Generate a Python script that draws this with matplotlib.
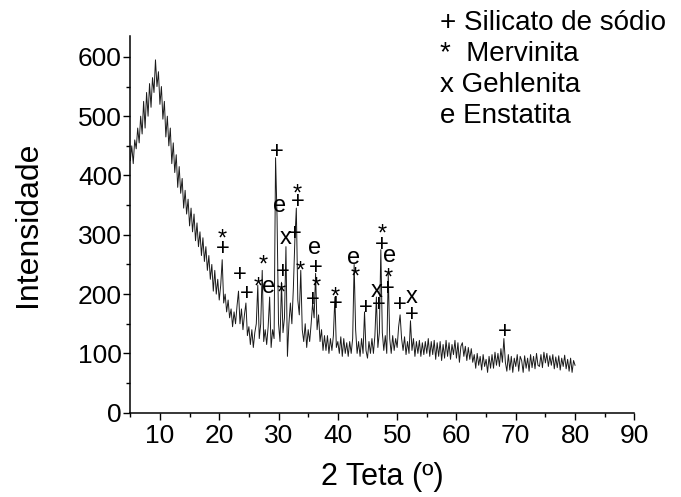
import numpy as np
import matplotlib
matplotlib.use('Agg')
import matplotlib.pyplot as plt
from matplotlib.ticker import MultipleLocator

plt.rcParams['font.family'] = ['Liberation Sans', 'DejaVu Sans']

# 2 theta grid (0.25 deg steps from 5 to 80) and intensity
two_theta_start = 5.0
two_theta_step = 0.25
intensity = [
    425, 450, 420, 460,   # 5
    445, 480, 455, 500,   # 6
    470, 525, 480, 540,   # 7
    500, 555, 515, 565,   # 8
    540, 595, 550, 575,   # 9
    520, 550, 495, 525,   # 10
    465, 500, 450, 480,   # 11
    420, 455, 405, 435,   # 12
    380, 415, 370, 395,   # 13
    345, 375, 335, 360,   # 14
    315, 345, 305, 335,   # 15
    290, 320, 280, 305,   # 16
    265, 295, 255, 280,   # 17
    240, 265, 225, 250,   # 18
    205, 240, 200, 225,   # 19
    190, 215, 258, 185,   # 20
    200, 170, 190, 160,   # 21
    175, 145, 170, 150,   # 22
    180, 205, 150, 175,   # 23
    140, 165, 185, 130,   # 24
    145, 115, 140, 110,   # 25
    135, 150, 215, 125,   # 26
    150, 240, 120, 140,   # 27
    115, 145, 195, 110,   # 28
    140, 125, 430, 330,   # 29
    150, 120, 220, 135,   # 30
    160, 280, 95, 150,    # 31
    185, 150, 210, 290,   # 32
    345, 190, 165, 240,   # 33
    140, 120, 150, 110,   # 34
    140, 120, 150, 185,   # 35
    160, 235, 140, 165,   # 36
    120, 140, 105, 130,   # 37
    105, 130, 100, 125,   # 38
    105, 130, 195, 110,   # 39
    120, 100, 128, 95,    # 40
    125, 100, 118, 95,    # 41
    120, 100, 125, 250,   # 42
    140, 100, 120, 95,    # 43
    125, 100, 170, 105,   # 44
    92, 120, 100, 125,    # 45
    100, 130, 195, 110,   # 46
    135, 275, 135, 105,   # 47
    130, 100, 235, 125,   # 48
    100, 130, 105, 125,   # 49
    110, 145, 165, 125,   # 50
    105, 128, 98, 120,    # 51
    100, 155, 105, 125,   # 52
    95, 120, 100, 122,    # 53
    95, 118, 98, 120,     # 54
    100, 125, 95, 120,    # 55
    98, 122, 90, 118,     # 56
    95, 120, 88, 115,     # 57
    92, 122, 95, 118,     # 58
    90, 115, 98, 122,     # 59
    92, 118, 85, 112,     # 60
    118, 95, 112, 88,     # 61
    110, 90, 108, 85,     # 62
    98, 75, 100, 80,      # 63
    95, 72, 98, 78,       # 64
    90, 68, 95, 75,       # 65
    98, 75, 102, 80,      # 66
    100, 78, 108, 85,     # 67
    125, 85, 70, 98,      # 68
    72, 95, 68, 92,       # 69
    78, 98, 70, 95,       # 70
    88, 68, 96, 75,       # 71
    92, 70, 98, 76,       # 72
    95, 74, 100, 80,      # 73
    78, 98, 76, 102,      # 74
    84, 100, 78, 96,      # 75
    80, 98, 74, 94,       # 76
    76, 96, 72, 92,       # 77
    78, 97, 74, 90,       # 78
    70, 92, 68, 88,       # 79
    80,                   # 80
]

# phase labels over the peaks: 2theta, label height, symbol
peak_x = [20.5, 20.6, 23.5, 24.7, 27.4, 26.5, 28.4, 29.7, 30.2, 31.2, 30.7, 30.5,
          33.2, 33.2, 32.7, 33.7, 36.1, 36.3, 36.3, 35.8, 39.6, 39.6, 42.6, 43.0,
          44.7, 46.5, 46.9, 47.5, 47.4, 48.7, 48.5, 48.5, 50.5, 52.4, 52.4, 68.1]
peak_y = [305, 280, 236, 204, 261, 224, 213, 443, 349, 295, 240, 214,
          381, 359, 305, 251, 278, 248, 224, 193, 208, 186, 261, 241,
          180, 205, 185, 314, 286, 264, 239, 212, 185, 195, 168, 139]
peak_sym = ['*', '+', '+', '+', '*', '*', 'e', '+', 'e', 'x', '+', '*',
            '*', '+', '+', '*', 'e', '+', '*', '+', '*', '+', 'e', '*',
            '+', 'x', '+', '*', '+', 'e', '*', '+', '+', 'x', '+', '+']

legend_lines = ['+ Silicato de sódio', '*  Mervinita', 'x Gehlenita', 'e Enstatita']

# glyph centre height above baseline, in em, so every symbol sits centred on its point
sym_center = {'+': 0.34, '*': 0.58, 'x': 0.26, 'e': 0.26}

two_theta = two_theta_start + two_theta_step * np.arange(len(intensity))

fig = plt.figure(figsize=(6.81, 4.97), dpi=100)
ax = fig.add_axes([0.1913, 0.1696, 0.7402, 0.7577])

ax.plot(two_theta, intensity, color='#1a1a1a', lw=0.7)

fs_sym = 17
for x, y, s in zip(peak_x, peak_y, peak_sym):
    ax.annotate(s, (x, y), xytext=(0, -sym_center[s] * fs_sym), textcoords='offset points',
                ha='center', va='baseline', fontsize=fs_sym)

ax.set_xlim(5, 90)
ax.set_ylim(0, 635)
ax.xaxis.set_minor_locator(MultipleLocator(5))
ax.yaxis.set_minor_locator(MultipleLocator(50))
ax.set_yticks([0, 100, 200, 300, 400, 500, 600])
ax.set_xticks([10, 20, 30, 40, 50, 60, 70, 80, 90])

for side in ['top', 'right']:
    ax.spines[side].set_visible(False)
for side in ['left', 'bottom']:
    ax.spines[side].set_linewidth(1.1)

ax.tick_params(which='major', direction='out', length=5, width=1.0, labelsize=19)
ax.tick_params(which='minor', direction='out', length=3, width=1.0)
ax.tick_params(axis='y', pad=1)
ax.tick_params(axis='x', pad=3)

ax.set_xlabel('2 Teta (º)', fontsize=22, labelpad=10)
ax.set_ylabel('Intensidade', fontsize=23, labelpad=25)

for i, line in enumerate(legend_lines):
    fig.text(440 / 681, 1 - (23 + 31 * i) / 497, line, fontsize=20, ha='left', va='center')

fig.savefig('out.png', dpi=100)
